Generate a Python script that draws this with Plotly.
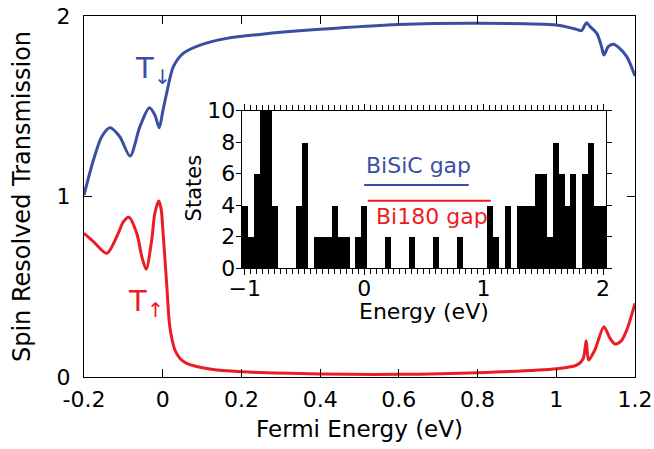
import plotly.graph_objects as go

# Spin-down transmission T_down(E)
e_down = [-0.2, -0.176, -0.155, -0.134, -0.109, -0.083, -0.058, -0.034, -0.020, -0.009,
          0.0, 0.010, 0.027, 0.052, 0.095, 0.163, 0.247, 0.4, 0.6, 0.8, 1.0,
          1.052, 1.064, 1.077, 1.086, 1.103, 1.115, 1.121, 1.132, 1.145, 1.161, 1.179, 1.2]
t_down = [1.008, 1.202, 1.331, 1.381, 1.331, 1.224, 1.387, 1.492, 1.452, 1.381,
          1.47, 1.572, 1.719, 1.793, 1.839, 1.876, 1.898, 1.926, 1.953, 1.96, 1.95,
          1.926, 1.919, 1.963, 1.941, 1.904, 1.83, 1.784, 1.83, 1.843, 1.821, 1.775, 1.668]

# Spin-up transmission T_up(E)
e_up = [-0.2, -0.176, -0.142, -0.113, -0.1, -0.086, -0.066, -0.053, -0.042, -0.028,
        -0.020, -0.010, -0.004, 0.001, 0.010, 0.018, 0.031, 0.044, 0.061, 0.12, 0.2,
        0.4, 0.6, 0.8, 1.0, 1.052, 1.068, 1.076, 1.082, 1.098, 1.121, 1.135, 1.149,
        1.165, 1.179, 1.2]
t_up = [0.796, 0.75, 0.685, 0.796, 0.86, 0.885, 0.796, 0.666, 0.597, 0.759,
        0.907, 0.975, 0.93, 0.796, 0.519, 0.279, 0.150, 0.103, 0.076, 0.044, 0.029,
        0.017, 0.015, 0.024, 0.046, 0.066, 0.10, 0.201, 0.094, 0.15, 0.279, 0.22, 0.183,
        0.2, 0.26, 0.408]

# Density of states histogram (bin centres, 0.05 eV bins)
dos_energy = [-1.00, -0.95, -0.90, -0.85, -0.80, -0.75, -0.70, -0.65, -0.60, -0.55,
              -0.50, -0.45, -0.40, -0.35, -0.30, -0.25, -0.20, -0.15, -0.10, -0.05,
              0.00, 0.20, 0.40, 0.60, 0.80, 1.05, 1.10, 1.15, 1.20, 1.25,
              1.30, 1.35, 1.40, 1.45, 1.50, 1.55, 1.60, 1.65, 1.70, 1.75,
              1.80, 1.85, 1.90, 1.95, 2.00]
dos_states = [4, 2, 6, 10, 10, 4, 0, 0, 0, 4,
              8, 0, 2, 2, 2, 4, 2, 2, 0, 2,
              4, 2, 2, 2, 2, 4, 2, 0, 4, 0,
              4, 4, 4, 6, 6, 2, 8, 6, 4, 6,
              0, 6, 8, 4, 4]
bin_width = 0.05

# Band gaps (start, end)
bisic_gap = [0.0, 0.876]
bi180_gap = [0.03, 1.06]

main_xticks = [-0.2, 0, 0.2, 0.4, 0.6, 0.8, 1.0, 1.2]
main_xtext = ["-0.2", "0", "0.2", "0.4", "0.6", "0.8", "1", "1.2"]
main_yticks = [0, 1, 2]
inset_xticks = [-1, 0, 1, 2]
inset_yticks = [0, 2, 4, 6, 8, 10]

BLUE = "#3a4fa2"
RED = "#ec1c24"
FONT = "DejaVu Sans"

fig = go.Figure()

fig.add_trace(go.Scatter(x=e_down, y=t_down, mode="lines",
                         line=dict(color=BLUE, width=3, shape="spline", smoothing=0.8),
                         xaxis="x", yaxis="y", showlegend=False, hoverinfo="skip"))
fig.add_trace(go.Scatter(x=e_up, y=t_up, mode="lines",
                         line=dict(color=RED, width=3, shape="spline", smoothing=0.8),
                         xaxis="x", yaxis="y", showlegend=False, hoverinfo="skip"))

fig.add_trace(go.Bar(x=dos_energy, y=dos_states, width=bin_width,
                     marker=dict(color="black", line=dict(width=0)),
                     xaxis="x2", yaxis="y2", showlegend=False, hoverinfo="skip"))

axis_common = dict(showgrid=False, zeroline=False, showline=True, linecolor="black",
                   linewidth=1.3, tickcolor="black", tickwidth=1, automargin=False,
                   tickfont=dict(family=FONT, size=22, color="black"))

fig.update_layout(
    width=654, height=449,
    margin=dict(l=84, r=19, t=16, b=72),
    paper_bgcolor="white", plot_bgcolor="white",
    font=dict(family=FONT, color="black"),
    bargap=0,
    xaxis=dict(axis_common, domain=[0, 1], range=[-0.2, 1.2],
               tickvals=main_xticks, ticktext=main_xtext,
               ticks="inside", ticklen=8, mirror="ticks", ticklabelstandoff=2,
               title=dict(text="Fermi Energy (eV)", font=dict(family=FONT, size=23), standoff=10)),
    yaxis=dict(axis_common, domain=[0, 1], range=[0, 2],
               tickvals=main_yticks, ticks="inside", ticklen=8, mirror="ticks",
               ticklabelstandoff=8,
               title=dict(text="Spin Resolved Transmission", font=dict(family=FONT, size=24), standoff=19)),
    xaxis2=dict(axis_common, anchor="y2", domain=[0.2862, 0.9474], range=[-1.025, 2.025],
                tickvals=inset_xticks, ticks="outside", ticklen=6, mirror="ticks",
                ticklabelstandoff=-6,
                minor=dict(dtick=bin_width, tick0=0, ticks="outside", ticklen=5,
                           tickcolor="black", tickwidth=1, showgrid=False)),
    yaxis2=dict(axis_common, anchor="x2", domain=[0.3011, 0.7377], range=[0, 10],
                tickvals=inset_yticks, ticks="outside", ticklen=5, mirror="ticks",
                ticklabelstandoff=-4),
)

# Inset axis titles
fig.add_annotation(xref="x2 domain", yref="y2 domain", x=0.5, y=-0.271, text="Energy (eV)",
                   showarrow=False, xanchor="center", yanchor="middle",
                   font=dict(family=FONT, size=22, color="black"))
fig.add_annotation(xref="x2 domain", yref="y2 domain", x=-0.131, y=0.513, text="States",
                   showarrow=False, textangle=-90, xanchor="center", yanchor="middle",
                   font=dict(family=FONT, size=21, color="black"))

# Gap markers in the inset
fig.add_shape(type="line", xref="x2", yref="y2", x0=bisic_gap[0], x1=bisic_gap[1],
              y0=5.29, y1=5.29, line=dict(color=BLUE, width=2))
fig.add_shape(type="line", xref="x2", yref="y2", x0=bi180_gap[0], x1=bi180_gap[1],
              y0=4.29, y1=4.29, line=dict(color=RED, width=2))
fig.add_annotation(xref="x2", yref="y2", x=0.0, y=6.55, text="BiSiC gap", showarrow=False,
                   xanchor="left", yanchor="middle", font=dict(family=FONT, size=22, color=BLUE))
fig.add_annotation(xref="x2", yref="y2", x=0.086, y=3.29, text="Bi180 gap", showarrow=False,
                   xanchor="left", yanchor="middle", font=dict(family=FONT, size=22, color=RED))

# Curve labels
fig.add_annotation(xref="x", yref="y", x=-0.075, y=1.70, text="T<sub>↓</sub>", showarrow=False,
                   xanchor="left", yanchor="middle", font=dict(family=FONT, size=29, color=BLUE))
fig.add_annotation(xref="x", yref="y", x=-0.093, y=0.41, text="T<sub>↑</sub>", showarrow=False,
                   xanchor="left", yanchor="middle", font=dict(family=FONT, size=29, color=RED))

fig.write_html("out.html")
